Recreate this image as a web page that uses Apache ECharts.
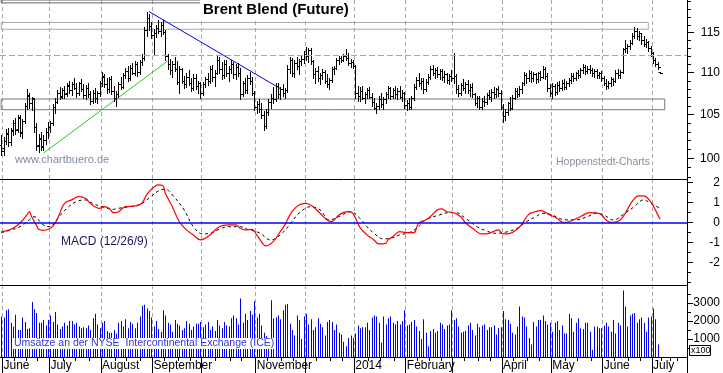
<!DOCTYPE html>
<html><head><meta charset="utf-8">
<script src="https://cdn.jsdelivr.net/npm/echarts@6.0.0/dist/echarts.min.js"></script>
<style>html,body{margin:0;padding:0;background:#fff}#c{width:723px;height:373px}</style>
</head><body><div id="c"></div>
<script>
const FONT = '"Liberation Sans", Arial, sans-serif';

// ---- categories: trading days ----
const firstDate = '2013-05-31';
const holidays = ['2013-07-04', '2013-12-25', '2014-01-01', '2014-04-18'];
const categoryCount = 293;
const monthNames = ['January','February','March','April','May','June','July','August','September','October','November','December'];
const hiddenMonthLabels = ['2013-05', '2013-10', '2013-12', '2014-03'];

// ---- price (OHLC) ----
const openP = [101.5,
101.2,102.0,102.8,101.9,103.1,104.0,103.3,104.6,103.0,104.2,
106.0,107.2,106.4,106.8,103.6,101.5,102.2,101.4,102.1,103.0,
103.6,104.0,105.9,106.5,107.6,107.2,107.9,107.5,108.4,107.9,
108.6,108.2,107.5,108.7,108.0,107.3,108.2,107.4,106.6,107.6,
106.9,107.5,108.8,109.5,108.6,108.0,109.2,107.8,107.0,107.4,
108.6,108.3,109.7,110.2,109.4,110.6,110.0,111.0,110.1,111.3,
111.8,115.3,116.9,115.8,114.7,114.9,115.6,115.2,116.0,115.1,
112.0,111.0,110.3,111.1,110.5,108.9,110.4,109.0,108.6,109.5,
108.8,108.2,109.4,108.4,108.7,107.5,108.6,109.2,109.0,110.4,
109.5,110.0,111.6,110.4,109.7,111.1,109.9,110.5,111.0,109.8,
110.7,110.0,107.4,108.7,107.9,109.4,109.0,107.6,105.9,106.2,
105.6,105.0,103.7,105.3,106.5,107.0,106.8,108.4,107.4,108.0,
107.5,107.9,110.5,111.5,110.0,111.2,110.8,111.4,111.7,112.3,
112.0,112.8,111.4,109.8,110.2,109.3,109.7,110.1,109.0,108.6,
109.1,110.4,110.6,111.5,111.8,111.6,112.0,111.8,111.2,111.3,
110.8,107.6,107.2,107.8,107.0,107.4,107.9,107.1,106.5,105.8,
106.0,106.8,106.2,106.8,107.4,108.1,107.2,107.9,107.4,107.8,
107.1,107.5,106.1,106.4,105.9,106.9,108.3,109.1,108.8,109.0,
108.0,108.9,109.5,110.5,110.0,110.3,109.8,110.2,109.5,109.8,
109.1,109.6,109.3,109.6,108.0,107.5,108.5,108.2,108.6,107.9,
108.3,107.4,106.4,106.9,105.9,106.6,106.5,107.3,107.1,107.7,
107.4,108.0,107.5,105.9,104.8,105.3,106.3,105.8,107.0,107.8,
107.4,108.0,108.7,109.7,109.3,110.0,109.4,109.8,109.2,109.9,
109.5,110.4,109.6,108.2,107.6,108.4,107.7,108.5,108.1,108.8,
108.3,108.7,109.1,109.6,109.3,109.9,109.7,110.3,110.7,110.2,
110.5,110.3,110.0,110.2,109.7,109.9,109.4,108.8,108.4,108.8,
109.2,109.0,110.0,109.7,110.1,112.9,113.0,113.3,113.7,114.6,
115.2,114.5,114.9,114.1,113.6,113.8,113.1,112.4,111.5,111.0,
110.1];
const highP = [102.6,
102.4,103.3,103.4,103.5,104.4,104.6,105.0,105.0,104.5,106.3,
108.0,107.6,107.1,107.0,104.0,102.8,103.0,102.6,103.4,104.1,
104.3,106.2,106.9,107.9,108.3,108.1,108.4,108.8,109.0,108.9,
109.3,108.7,108.9,109.2,108.6,108.5,108.8,107.8,107.9,108.1,
107.8,109.0,110.1,109.8,109.4,109.5,109.6,108.4,107.8,108.9,
109.5,109.9,110.6,110.8,110.9,111.2,111.4,111.3,111.5,112.3,
115.7,117.6,117.4,116.3,115.4,116.0,116.6,116.3,116.6,115.3,
112.3,111.7,111.4,111.9,111.4,110.8,110.6,109.6,109.9,110.3,
109.3,109.8,109.8,109.0,108.9,108.9,109.5,110.0,110.8,110.9,
110.3,112.1,111.9,111.3,111.5,111.6,110.8,111.5,111.3,111.0,
111.2,110.6,109.0,109.3,109.7,110.1,109.5,107.8,106.6,106.8,
106.4,105.4,105.6,106.8,107.4,108.3,108.8,108.8,108.3,108.6,
108.2,110.9,111.9,111.8,111.6,111.9,111.7,112.0,112.7,113.2,
113.0,113.0,111.6,110.6,110.8,110.0,110.5,110.3,109.8,109.3,
110.7,110.8,111.8,112.0,112.1,112.3,112.9,112.4,111.7,111.5,
110.9,108.4,108.3,108.4,107.7,108.2,108.3,107.6,107.0,106.4,
107.2,107.5,107.1,107.7,108.4,108.3,108.2,108.4,108.1,108.4,
107.9,107.7,106.7,107.0,107.2,108.6,109.5,110.0,109.4,109.4,
109.2,109.8,110.8,110.9,110.6,110.7,110.5,110.5,110.2,110.0,
109.8,110.3,112.4,109.8,108.5,108.7,109.2,108.9,109.1,108.6,
108.8,107.6,107.2,107.2,106.9,107.2,107.6,107.9,108.0,108.3,
108.2,108.4,107.9,106.2,105.6,106.5,107.1,107.3,108.2,108.1,
108.4,108.9,110.1,110.0,110.3,110.2,110.1,110.0,110.1,110.2,
110.8,110.7,109.9,108.6,108.8,108.6,108.9,109.0,109.1,109.2,
109.0,109.4,109.9,110.0,110.1,110.3,110.6,111.0,110.9,110.8,
110.9,110.6,110.5,110.4,110.1,110.2,109.6,109.2,109.0,109.5,
109.4,110.3,110.4,110.3,113.0,114.1,113.6,114.0,115.0,115.7,
115.6,115.2,115.0,114.5,114.2,113.9,113.3,112.5,111.8,111.3,
110.1];
const lowP = [100.4,
100.4,101.6,101.4,101.5,102.6,102.8,103.0,102.5,102.3,104.0,
105.6,105.8,105.5,103.0,101.0,100.7,100.9,101.0,101.6,102.3,
103.0,103.8,105.2,106.3,106.8,106.9,107.0,107.2,107.6,107.3,
108.0,107.1,107.3,107.8,107.0,106.8,107.1,106.2,106.3,106.5,
106.4,107.2,108.4,108.3,107.6,107.7,107.4,106.6,106.0,107.1,
108.0,108.1,109.3,109.0,109.1,109.8,109.7,109.6,109.8,110.9,
111.5,114.6,115.3,114.3,112.2,114.4,115.0,114.6,114.8,111.6,
110.4,109.8,109.5,110.2,108.6,107.6,108.7,108.2,108.3,108.5,
107.8,107.9,108.0,107.5,107.0,107.3,108.3,108.5,108.7,109.0,
108.4,109.8,110.0,109.2,109.4,109.6,109.0,110.0,109.4,109.2,
109.6,106.8,107.2,107.5,107.6,108.6,107.3,105.5,105.2,105.3,
104.6,103.2,103.5,105.0,105.8,106.4,106.6,107.0,106.8,107.2,
106.9,107.7,110.0,109.6,109.5,110.5,109.8,110.9,111.2,111.6,
111.3,111.0,109.4,108.8,109.0,108.6,109.2,108.7,108.3,108.0,
108.9,109.8,110.4,111.1,111.3,111.4,111.5,110.9,110.7,110.6,
107.0,106.6,106.6,106.8,106.4,106.9,106.9,106.0,105.6,105.2,
105.6,105.9,105.6,106.3,107.0,106.8,106.9,107.0,106.8,106.9,
106.6,105.8,105.5,105.7,105.6,106.7,108.0,108.4,108.0,107.6,
107.8,108.6,109.2,109.7,109.4,109.5,109.2,109.1,108.9,108.7,
108.6,109.0,108.8,107.6,107.2,107.3,107.9,107.5,107.6,107.2,
107.1,106.1,105.9,105.6,105.6,106.0,106.2,106.8,106.6,107.0,
107.1,107.2,105.6,104.1,104.4,105.0,105.5,105.6,106.8,107.1,
107.2,107.6,108.5,108.8,109.0,108.9,109.0,108.8,108.9,109.1,
109.3,109.2,107.8,107.2,107.0,107.3,107.4,107.8,107.9,108.0,
108.0,108.4,108.8,109.0,109.1,109.3,109.5,110.0,109.8,109.9,
110.0,109.6,109.5,109.4,109.3,109.0,108.5,108.0,108.1,108.4,
108.5,108.9,109.4,109.3,110.0,112.5,112.4,112.9,113.5,114.3,
114.2,114.0,113.6,113.3,113.2,112.7,112.0,111.2,110.8,110.5,
109.9];
const closeP = [100.8,
102.0,102.9,101.8,103.2,104.0,103.2,104.7,102.9,104.2,106.0,
107.3,106.4,106.9,103.6,101.4,102.3,101.3,102.1,103.0,103.6,
104.0,105.9,106.5,107.6,107.1,107.9,107.4,108.5,107.9,108.6,
108.2,107.5,108.7,108.0,107.3,108.2,107.4,106.6,107.6,106.9,
107.5,108.8,109.6,108.6,108.0,109.2,107.8,107.0,107.4,108.6,
108.3,109.7,110.2,109.4,110.6,110.0,111.0,110.1,111.3,111.8,
115.3,116.9,115.8,114.7,114.9,115.6,115.2,116.0,115.1,112.0,
111.0,110.3,111.1,110.5,108.9,110.4,109.0,108.6,109.5,108.8,
108.2,109.4,108.4,108.7,107.5,108.6,109.2,109.0,110.4,109.5,
110.0,111.6,110.4,109.7,111.1,109.9,110.5,111.0,109.8,110.7,
110.0,107.4,108.7,107.9,109.4,109.0,107.6,105.9,106.2,105.6,
105.0,103.7,105.3,106.5,107.0,106.8,108.4,107.4,108.0,107.5,
107.9,110.5,111.5,110.0,111.2,110.8,111.4,111.7,112.3,112.0,
112.8,111.4,109.8,110.2,109.3,109.7,110.1,109.0,108.6,109.1,
110.4,110.6,111.5,111.8,111.6,112.0,111.8,111.2,111.3,110.8,
107.6,107.2,107.8,107.0,107.4,107.9,107.1,106.5,105.8,106.0,
106.8,106.2,106.8,107.4,108.1,107.2,107.9,107.4,107.8,107.1,
107.5,106.1,106.4,105.9,106.9,108.3,109.1,108.8,109.0,108.0,
108.9,109.5,110.5,110.0,110.3,109.8,110.2,109.5,109.8,109.1,
109.6,109.3,109.6,108.0,107.5,108.5,108.2,108.6,107.9,108.3,
107.4,106.4,106.9,105.9,106.6,106.5,107.3,107.1,107.7,107.4,
108.0,107.5,105.9,104.8,105.3,106.3,105.8,107.0,107.8,107.4,
108.0,108.7,109.7,109.3,110.0,109.4,109.8,109.2,109.9,109.5,
110.4,109.6,108.2,107.6,108.4,107.7,108.5,108.1,108.8,108.3,
108.7,109.1,109.6,109.3,109.9,109.7,110.3,110.7,110.2,110.5,
110.3,110.0,110.2,109.7,109.9,109.4,108.8,108.4,108.8,109.2,
109.0,110.0,109.7,110.1,112.9,113.0,113.3,113.7,114.6,115.2,
114.5,114.9,114.1,113.6,113.8,113.1,112.4,111.5,111.0,110.7,
110.0];

// ---- volume (x100) ----
const volume = [2250,
2200,2600,2650,1900,1700,2350,1500,1500,2200,1950,1550,1600,3050,2650,2450,1900,1900,2050,1750,2050,
2300,1950,2500,1800,1550,1700,1900,1750,2000,2000,1800,1900,1700,1600,1650,1600,1750,1500,2150,2400,1800,1600,
1900,2000,1450,1350,1350,1500,1300,1900,2000,1700,2100,1600,1950,1850,1600,1900,2250,2850,2900,2700,2550,2200,
1700,2000,1550,1400,2600,2300,1900,1800,1400,2050,1850,1750,1500,1600,2000,1850,1500,1700,1850,1850,1950,
1650,1800,1950,1500,1700,1450,2050,1750,1600,1950,1750,1700,2150,2300,2150,1800,3250,1900,2400,2050,2550,2350,3100,
2200,2400,1750,1350,1150,1000,3150,2150,2200,2300,2100,2600,2900,2950,1850,1500,1200,2300,2050,1000,2250,
2400,1800,2100,1500,1650,2150,1850,1650,1200,1950,2050,1950,1500,1800,1350,1250,850,600,1050,1200,1050,
1300,1750,1600,1650,1650,1900,1500,2200,2300,2250,1900,800,2250,1800,2150,2250,1900,1800,2000,1800,2000,2600,
1750,1800,1950,2050,1700,1450,1000,2100,1350,600,1450,1550,1350,1450,1900,1800,1550,1750,1800,2600,
2050,2150,1700,1350,1400,1450,1750,1900,1500,1200,1850,1650,1750,1800,1500,1650,1650,1750,1250,1600,1650,
2550,2100,2050,1850,1350,1250,1700,2800,2250,2200,1700,1050,700,1950,1700,2050,2050,2300,2000,1800,1900,
1400,1900,2000,1500,1750,1300,1300,2400,2150,1400,1900,2150,1600,1550,1900,1900,1400,400,1700,1700,1600,1600,
1750,1900,1700,1400,2050,1300,1900,1750,3700,2800,1700,2300,2400,2450,1900,2100,2200,1900,1400,2200,2250,
2700,2100,700,null];

// ---- MACD (12/26/9): [day index, value] ----
const macdLine = [[0,-0.47],[2,-0.43],[5,-0.30],[8,-0.05],[11,0.37],[12,0.53],[13,0.28],[15,-0.13],[16,-0.35],[18,-0.40],
[21,-0.30],[23,-0.05],[25,0.45],[27,0.95],[30,1.12],[33,1.28],[36,1.20],[38,0.95],[42,0.70],[44,0.78],[46,0.70],[48,0.48],
[50,0.53],[53,0.78],[57,0.82],[60,0.95],[62,1.37],[65,1.75],[67,1.87],[69,1.82],[70,1.45],[73,0.78],[76,0.03],[79,-0.38],
[82,-0.63],[85,-0.88],[89,-0.63],[93,-0.22],[97,-0.13],[100,-0.13],[102,-0.30],[104,-0.38],[107,-0.35],[109,-0.63],
[112,-1.13],[113,-1.18],[116,-0.97],[119,-0.47],[121,-0.13],[124,0.53],[127,0.87],[130,0.95],[133,0.78],[136,0.45],
[139,0.12],[141,0.03],[144,0.37],[148,0.53],[150,0.45],[153,-0.25],[156,-0.63],[159,-0.88],[161,-1.08],[164,-1.05],
[165,-0.88],[167,-0.72],[170,-0.47],[173,-0.52],[176,-0.52],[178,-0.05],[181,0.12],[183,0.28],[186,0.62],[188,0.67],
[190,0.53],[193,0.48],[196,0.28],[198,-0.02],[201,-0.30],[205,-0.58],[208,-0.55],[212,-0.38],[214,-0.58],[217,-0.55],
[220,-0.35],[222,-0.10],[225,0.40],[227,0.50],[230,0.58],[234,0.37],[237,0.20],[240,-0.02],[244,0.12],[247,0.28],
[251,0.48],[255,0.45],[258,0.12],[260,0.00],[264,0.12],[267,0.62],[269,1.03],[272,1.32],[274,1.32],[277,1.03],
[279,0.62],[281,0.15]];
const signalLine = [[0,-0.52],[3,-0.42],[8,-0.22],[12,0.12],[14,0.28],[18,-0.13],[21,-0.22],[23,0.03],[28,0.70],[32,1.03],
[36,1.12],[39,0.95],[43,0.78],[48,0.65],[50,0.70],[55,0.78],[59,0.87],[63,1.20],[68,1.62],[70,1.65],[73,1.37],[78,0.62],
[82,-0.22],[86,-0.58],[89,-0.55],[93,-0.35],[97,-0.22],[102,-0.22],[105,-0.35],[110,-0.52],[115,-0.88],[119,-0.63],
[123,-0.13],[127,0.45],[132,0.78],[136,0.62],[140,0.12],[144,0.28],[149,0.53],[153,0.20],[156,-0.22],[159,-0.55],
[163,-0.83],[166,-0.80],[170,-0.63],[174,-0.52],[178,-0.22],[181,0.12],[187,0.37],[191,0.48],[194,0.48],[198,0.20],
[203,-0.22],[207,-0.43],[211,-0.55],[216,-0.47],[220,-0.30],[224,0.03],[228,0.28],[231,0.45],[235,0.37],[238,0.20],
[241,0.12],[245,0.12],[250,0.28],[254,0.45],[257,0.37],[261,0.12],[266,0.45],[270,0.78],[274,1.12],[277,0.95],[281,0.70]];

// ---- drawings: [day index, price] ----
const trendBlue = [[63, 117.72], [119, 108.08]];
const trendGreen = [[18, 100.6], [71, 111.43]];
// zones: [fromIndex, toIndex, lowPrice, highPrice]
const zoneTop = [-1, 85, 118.85, 119.23];
const zoneUpper = [-1, 276, 115.42, 116.29];
const zoneLower = [-1, 283, 105.57, 106.83];
const levelLine = 111.78;

// ---- axes ----
const priceRange = [97.76, 119.23];
const priceMajorTicks = [100, 105, 110, 115];
const priceMinorTicks = [98,99,100,101,102,103,104,105,106,107,108,109,110,111,112,113,114,115,116,117,118,119];
const macdRange = [-3.135, 2.165];
const macdMajorTicks = [-2, -1, 0, 1, 2];
const macdMinorTicks = [-3,-2.5,-2,-1.5,-1,-0.5,0,0.5,1,1.5,2];
const volRange = [0, 4000];
const volMajorTicks = [1000, 2000, 3000];
const volMinorTicks = [500,1000,1500,2000,2500,3000,3500];

// build categories
const cats = [firstDate];
{
  let t = Date.UTC(2013, 5, 3);
  while (cats.length < categoryCount) {
    const d = new Date(t);
    const wd = d.getUTCDay();
    const s = d.toISOString().slice(0, 10);
    if (wd > 0 && wd < 6 && holidays.indexOf(s) < 0) cats.push(s);
    t += 86400000;
  }
}
const monthStart = new Set();
cats.forEach((c, i) => { if (i > 0 && c.slice(0, 7) !== cats[i - 1].slice(0, 7)) monthStart.add(i); });
const quarterTicks = new Set();
{
  const starts = Array.from(monthStart);
  starts.forEach((s, k) => {
    const e = k + 1 < starts.length ? starts[k + 1] : cats.length;
    const n = e - s;
    for (let q = 1; q <= 3; q++) quarterTicks.add(s + Math.round(n * q / 4));
  });
}
const isMonth = (i) => monthStart.has(i);
const isLabel = (i) => monthStart.has(i) && hiddenMonthLabels.indexOf(cats[i].slice(0, 7)) < 0;
const labelFmt = (v) => { const m = +v.slice(5, 7) - 1; return m === 0 ? v.slice(0, 4) : monthNames[m]; };

const L = Math.log;
const ohlcData = closeP.map((c, i) => [i, L(openP[i]), L(highP[i]), L(lowP[i]), L(c)]);
const volData = volume.map((v, i) => [i, v]).filter(d => d[1] != null);

const gridSplit = { show: true, interval: isMonth, lineStyle: { color: '#a8a8a8', type: [4, 3], width: 1 } };
function xAx(grid, extra) {
  return Object.assign({
    gridIndex: grid, type: 'category', data: cats, boundaryGap: true, position: 'bottom',
    axisLine: { show: true, onZero: false, lineStyle: { color: '#000', width: 1 } },
    axisTick: { show: false }, axisLabel: { show: false }, splitLine: gridSplit
  }, extra || {});
}
function yAx(grid, range, ticks, len, labels, showLine) {
  return {
    gridIndex: grid, type: 'value', position: 'right', min: range[0], max: range[1],
    axisLine: { show: !!showLine, lineStyle: { color: '#000', width: 1 } },
    axisTick: { show: true, length: len, customValues: ticks, lineStyle: { color: '#000' } },
    axisLabel: labels ? Object.assign({ show: true, customValues: ticks, align: 'right', margin: 33,
      color: '#000', fontSize: 12, fontFamily: FONT }, labels) : { show: false },
    splitLine: { show: false }
  };
}
const lnTicks = (a) => a.map(v => L(v));

const ohlcRender = (params, api) => {
  const i = api.value(0);
  const pO = api.coord([i, api.value(1)]);
  const pH = api.coord([i, api.value(2)]);
  const pL = api.coord([i, api.value(3)]);
  const pC = api.coord([i, api.value(4)]);
  const x = Math.round(pH[0]) + 0.5;
  const yo = Math.round(pO[1]) + 0.5, yc = Math.round(pC[1]) + 0.5;
  const st = { stroke: '#000', lineWidth: 1 };
  return { type: 'group', children: [
    { type: 'line', shape: { x1: x, y1: Math.round(pH[1]), x2: x, y2: Math.round(pL[1]) + 1 }, style: st },
    { type: 'line', shape: { x1: x - 2, y1: yo, x2: x, y2: yo }, style: st },
    { type: 'line', shape: { x1: x, y1: yc, x2: x + 2.5, y2: yc }, style: st }
  ] };
};
const volRender = (params, api) => {
  const i = api.value(0);
  const p = api.coord([i, api.value(1)]);
  const p0 = api.coord([i, 0]);
  return { type: 'rect', shape: { x: Math.round(p[0]), y: p[1], width: 1, height: p0[1] - p[1] }, style: { fill: '#0000ee' } };
};
const zone = (z) => [{ coord: [z[0], L(z[2])] }, { coord: [z[1], L(z[3])] }];

const option = {
  animation: false,
  backgroundColor: '#fff',
  grid: [
    { left: 0, right: 36, top: 0, height: 179 },
    { left: 0, right: 36, top: 179, height: 106 },
    { left: 0, right: 36, top: 285, height: 72 }
  ],
  xAxis: [
    xAx(0), xAx(1),
    xAx(2, {
      axisTick: { show: true, interval: (i) => quarterTicks.has(i), length: 4, lineStyle: { color: '#000' } },
      axisLabel: { show: true, interval: isLabel, formatter: labelFmt, align: 'left', margin: 3,
        color: '#000', fontSize: 12, fontFamily: FONT }
    }),
    xAx(2, {
      axisLine: { show: false, onZero: false },
      axisTick: { show: true, interval: isMonth, length: 16, lineStyle: { color: '#000' } },
      splitLine: { show: false }
    })
  ],
  yAxis: [
    yAx(0, priceRange.map(L), lnTicks(priceMajorTicks), 7, { formatter: (v) => String(Math.round(Math.exp(v))) }, true),
    yAx(0, priceRange.map(L), lnTicks(priceMinorTicks), 4, null, false),
    yAx(1, macdRange, macdMajorTicks, 6, { formatter: (v) => String(Math.round(v)) }, true),
    yAx(1, macdRange, macdMinorTicks, 4, null, false),
    yAx(2, volRange, volMajorTicks, 6, { formatter: (v) => String(v) }, true),
    yAx(2, volRange, volMinorTicks, 4, null, false)
  ],
  series: [
    {
      type: 'line', xAxisIndex: 0, yAxisIndex: 0, data: trendBlue.map(d => [d[0], L(d[1])]),
      showSymbol: false, silent: true, lineStyle: { color: '#0000ff', width: 1 }, z: 3,
      markArea: { silent: true, label: { show: false },
        itemStyle: { color: 'rgba(0,0,0,0)', borderColor: '#888', borderWidth: 1 },
        data: [
          zone(zoneTop).map((p, k) => k === 0 ? Object.assign({ itemStyle: { borderColor: '#666' } }, p) : p),
          zone(zoneUpper).map((p, k) => k === 0 ? Object.assign({ itemStyle: { borderColor: '#aaa' } }, p) : p),
          zone(zoneLower).map((p, k) => k === 0 ? Object.assign({ itemStyle: { borderColor: '#777' } }, p) : p)
        ] },
      markLine: { silent: true, symbol: ['none', 'none'], label: { show: false },
        lineStyle: { color: '#a3ab9f', type: [6, 3], width: 1 },
        data: [{ yAxis: L(levelLine) }] }
    },
    {
      type: 'line', xAxisIndex: 0, yAxisIndex: 0, data: trendGreen.map(d => [d[0], L(d[1])]),
      showSymbol: false, silent: true, lineStyle: { color: '#22cc22', width: 1 }, z: 3
    },
    {
      type: 'custom', xAxisIndex: 0, yAxisIndex: 0, data: ohlcData, renderItem: ohlcRender,
      encode: { x: 0, y: [1, 2, 3, 4] }, silent: true, z: 4
    },
    {
      type: 'line', xAxisIndex: 1, yAxisIndex: 2, data: signalLine, smooth: 0.4, showSymbol: false, silent: true,
      lineStyle: { color: '#000', width: 1, type: [3, 3] }, z: 3
    },
    {
      type: 'line', xAxisIndex: 1, yAxisIndex: 2, data: macdLine, smooth: 0.4, showSymbol: false, silent: true,
      lineStyle: { color: '#ff0000', width: 1.2 }, z: 4,
      markLine: { silent: true, symbol: ['none', 'none'], label: { show: false },
        lineStyle: { color: '#0000ff', type: 'solid', width: 1.5 }, data: [{ yAxis: 0 }] }
    },
    {
      type: 'custom', xAxisIndex: 2, yAxisIndex: 4, data: volData, renderItem: volRender,
      encode: { x: 0, y: 1 }, silent: true
    }
  ],
  graphic: [
    { type: 'text', left: 200, top: 0, z: 100, style: { text: 'Brent Blend (Future)', font: 'bold 15px ' + FONT,
      fill: '#000', backgroundColor: '#fff', padding: [2, 3, 3, 3] } },
    { type: 'text', left: 14, top: 154, z: 100, style: { text: 'www.chartbuero.de', font: '11px ' + FONT,
      fill: '#7f8aa6', backgroundColor: '#fff', padding: [0, 1] } },
    { type: 'text', left: 555, top: 157, z: 100, style: { text: 'Hoppenstedt-Charts', font: '10.5px ' + FONT,
      fill: '#8a8f9c', backgroundColor: '#fff', padding: [0, 1] } },
    { type: 'text', left: 60, top: 236, z: 100, style: { text: 'MACD (12/26/9)', font: '12px ' + FONT,
      fill: '#1a1a5e', backgroundColor: '#fff', padding: [0, 1] } },
    { type: 'text', left: 13, top: 338, z: 100, style: { text: 'Umsätze an der NYSE  Intercontinental Exchange (ICE)',
      font: '10.5px ' + FONT, fill: '#3333dd', backgroundColor: '#fff', padding: [0, 1] } },
    { type: 'rect', z: 100, shape: { x: 689.5, y: 345.5, width: 21, height: 10 }, style: { fill: '#fff', stroke: '#000', lineWidth: 1 } },
    { type: 'text', z: 101, left: 691, top: 346, style: { text: 'x100', font: '9px ' + FONT, fill: '#000' } }
  ]
};
const chart = echarts.init(document.getElementById('c'), null, { renderer: 'canvas', width: 723, height: 373 });
chart.setOption(option);
</script></body></html>
